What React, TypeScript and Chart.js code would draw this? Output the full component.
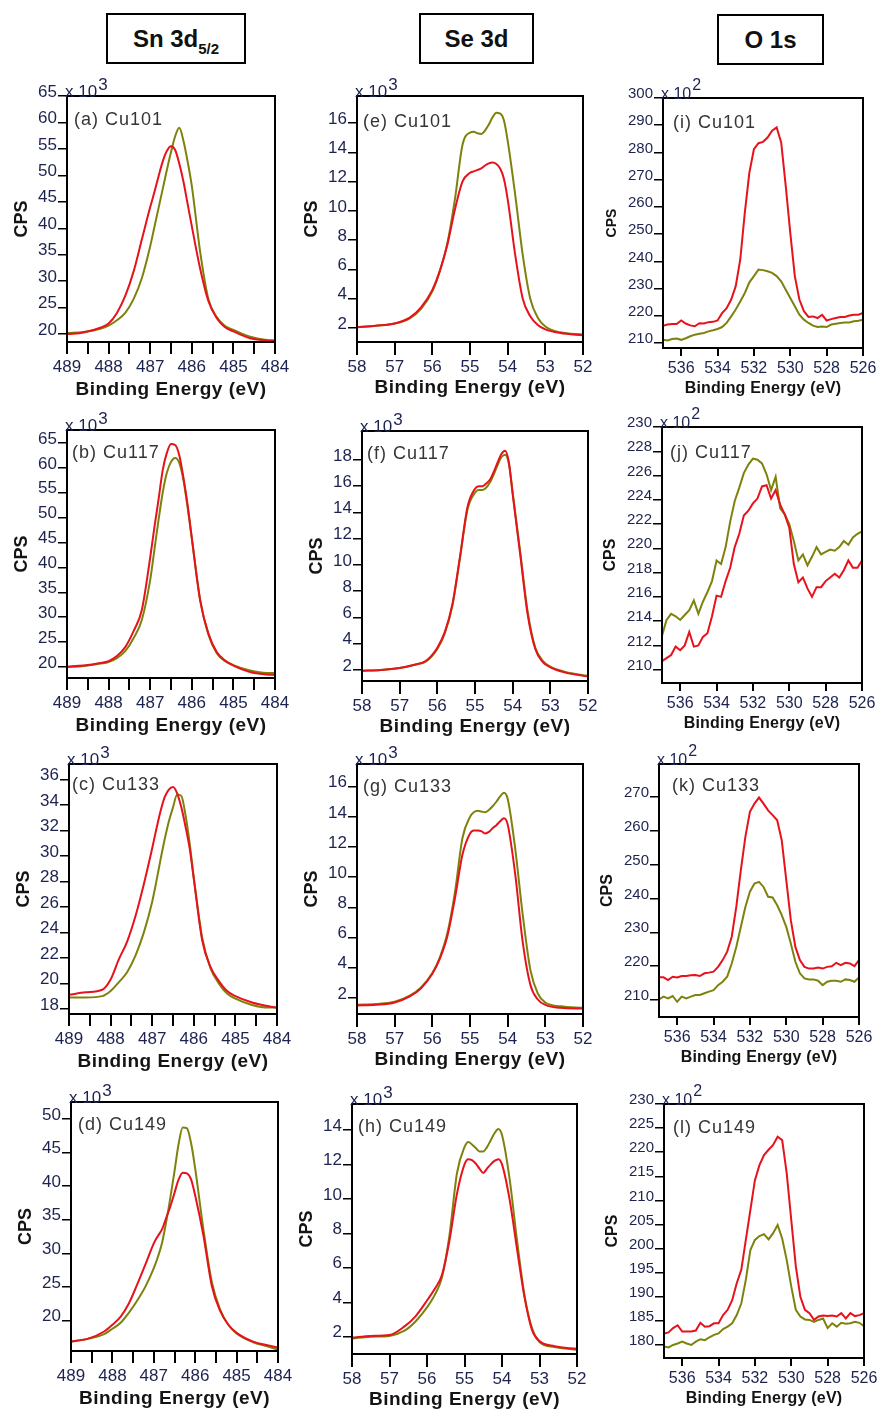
import React, { useEffect, useRef } from 'react';
import { Chart, registerables } from 'chart.js';

Chart.register(...registerables);

// ---------- data ----------
const snX = [489, 488.6, 488.2, 488, 487.8, 487.6, 487.4, 487.2, 487, 486.9, 486.8, 486.7, 486.6, 486.5, 486.4, 486.3, 486.2, 486.1, 486, 485.8, 485.6, 485.4, 485.2, 485, 484.6, 484.2, 484];
const seX = [58, 57.5, 57, 56.6, 56.3, 56.0, 55.8, 55.6, 55.4, 55.2, 55.0, 54.9, 54.8, 54.7, 54.6, 54.5, 54.4, 54.3, 54.2, 54.1, 54.0, 53.8, 53.6, 53.4, 53.2, 53.0, 52.6, 52.0];
const oX = [537, 536.75, 536.5, 536.25, 536, 535.75, 535.5, 535.25, 535, 534.75, 534.5, 534.25, 534, 533.75, 533.5, 533.25, 533, 532.75, 532.5, 532.25, 532, 531.75, 531.5, 531.25, 531, 530.75, 530.5, 530.25, 530, 529.75, 529.5, 529.25, 529, 528.75, 528.5, 528.25, 528, 527.75, 527.5, 527.25, 527, 526.75, 526.5, 526.25, 526];

// Sn 3d5/2 (x10^3 CPS)
const snA_red = [20.0, 20.3, 21.2, 22.0, 24.0, 27.2, 31.8, 37.9, 44.0, 46.8, 49.8, 52.6, 54.6, 55.5, 54.8, 52.2, 48.8, 44.6, 40.4, 32.4, 26.2, 23.0, 21.3, 20.5, 19.2, 18.8, 18.7];
const snA_olive = [20.2, 20.4, 21.0, 21.6, 22.6, 24.0, 26.6, 30.6, 36.6, 40.2, 43.8, 47.4, 51.0, 54.4, 57.4, 59.0, 56.5, 52.6, 48.0, 35.6, 26.6, 23.2, 21.5, 20.8, 19.5, 18.9, 18.8];
const snB_red = [20.1, 20.3, 20.8, 21.2, 22.2, 24.0, 27.2, 31.5, 42.0, 48.0, 53.6, 59.5, 63.0, 64.8, 64.6, 62.5, 58.0, 52.5, 46.0, 33.4, 26.7, 23.0, 21.3, 20.3, 19.0, 18.5, 18.4];
const snB_olive = [20.0, 20.2, 20.7, 21.0, 21.8, 23.2, 25.8, 29.5, 37.5, 43.5, 49.5, 55.0, 59.0, 61.2, 62.0, 61.0, 57.5, 52.0, 45.8, 33.6, 26.5, 22.8, 21.2, 20.4, 19.3, 18.8, 18.8];
const snC_red = [19.1, 19.3, 19.5, 20.3, 21.9, 23.3, 25.3, 27.8, 30.6, 32.1, 33.5, 34.6, 35.2, 35.4, 34.9, 33.8, 32.3, 30.6, 28.2, 23.4, 21.3, 20.2, 19.4, 19.0, 18.5, 18.2, 18.1];
const snC_olive = [18.9, 18.9, 19.0, 19.4, 20.1, 20.9, 22.2, 24.0, 26.4, 28.0, 29.7, 31.3, 32.7, 33.8, 34.8, 34.7, 33.2, 31.0, 28.3, 23.6, 21.2, 20.0, 19.2, 18.8, 18.3, 18.1, 18.1];
const snD_red = [16.9, 17.3, 18.4, 19.4, 20.6, 22.6, 25.4, 28.4, 31.5, 32.6, 33.6, 35.3, 37.0, 39.0, 41.0, 42.0, 41.9, 41.0, 38.6, 32.6, 25.2, 21.5, 19.4, 18.2, 16.9, 16.3, 16.0];
const snD_olive = [16.9, 17.3, 18.0, 18.8, 19.7, 21.2, 23.0, 25.1, 27.8, 29.5, 31.6, 34.7, 38.3, 42.2, 46.3, 48.7, 48.6, 46.4, 42.6, 33.5, 25.8, 21.7, 19.4, 18.1, 16.8, 16.1, 15.7];

// Se 3d (x10^3 CPS)
const seE_red = [2.05, 2.15, 2.3, 2.7, 3.4, 4.6, 5.9, 7.7, 10.1, 12.0, 12.6, 12.7, 12.8, 12.9, 13.1, 13.25, 13.3, 13.2, 12.9, 12.2, 10.8, 7.0, 4.0, 2.8, 2.2, 1.9, 1.65, 1.5];
const seE_olive = [2.05, 2.15, 2.3, 2.65, 3.3, 4.5, 5.9, 7.8, 10.8, 14.5, 15.35, 15.4, 15.3, 15.25, 15.5, 15.9, 16.4, 16.7, 16.65, 16.2, 14.8, 11.1, 7.0, 4.0, 2.7, 2.1, 1.7, 1.55];
const seF_red = [1.95, 2.0, 2.15, 2.4, 2.7, 3.7, 4.9, 7.0, 10.6, 14.4, 15.8, 16.0, 16.0, 16.2, 16.5, 17.1, 17.8, 18.45, 18.7, 17.8, 15.4, 10.8, 6.2, 3.6, 2.6, 2.2, 1.8, 1.5];
const seF_olive = [1.95, 2.0, 2.15, 2.4, 2.65, 3.6, 4.8, 6.9, 10.5, 14.2, 15.5, 15.7, 15.7, 15.9, 16.3, 16.9, 17.6, 18.2, 18.4, 17.7, 15.5, 11.0, 6.4, 3.7, 2.7, 2.25, 1.85, 1.55];
const seG_red = [1.5, 1.55, 1.7, 2.1, 2.65, 3.6, 4.6, 6.1, 8.6, 11.5, 12.9, 13.1, 13.1, 13.05, 12.9, 13.0, 13.25, 13.45, 13.7, 13.9, 13.5, 10.2, 5.7, 2.9, 1.9, 1.55, 1.35, 1.3];
const seG_olive = [1.55, 1.6, 1.75, 2.15, 2.7, 3.65, 4.7, 6.3, 9.0, 12.6, 14.0, 14.3, 14.4, 14.35, 14.3, 14.45, 14.7, 15.0, 15.35, 15.6, 15.2, 11.9, 7.5, 3.9, 2.3, 1.7, 1.45, 1.35];
const seH_red = [1.95, 2.05, 2.1, 2.6, 3.2, 4.1, 4.75, 5.6, 7.6, 10.3, 12.0, 12.3, 12.25, 12.05, 11.75, 11.5, 11.75, 12.0, 12.2, 12.3, 12.0, 10.0, 7.1, 4.3, 2.4, 1.75, 1.45, 1.3];
const seH_olive = [1.9, 2.0, 2.05, 2.35, 2.9, 3.7, 4.4, 5.45, 7.9, 11.5, 13.0, 13.3, 13.15, 12.95, 12.75, 12.75, 13.0, 13.4, 13.8, 14.05, 13.7, 11.2, 7.6, 4.4, 2.5, 1.7, 1.4, 1.25];

// O 1s (x10^2 CPS)
const oI_red = [216.4, 216.8, 217.0, 217.0, 218.3, 217.2, 216.5, 216.2, 217.3, 217.2, 217.7, 217.8, 218.3, 221.0, 222.8, 226.0, 230.9, 240.7, 257.9, 272.6, 281.2, 283.4, 283.9, 285.5, 288.0, 289.2, 283.7, 267.7, 250.5, 234.6, 226.0, 221.7, 219.6, 219.8, 219.2, 220.4, 218.3, 218.8, 219.2, 219.6, 219.6, 220.1, 220.4, 220.4, 221.1];
const oI_olive = [211.2, 211.0, 211.5, 211.7, 211.2, 211.8, 212.5, 213.1, 213.4, 213.7, 214.3, 214.7, 215.2, 215.9, 217.4, 219.8, 222.3, 225.3, 228.4, 232.3, 234.6, 237.0, 236.8, 236.4, 235.8, 234.6, 232.7, 229.6, 226.6, 223.5, 220.4, 218.6, 217.4, 216.4, 215.9, 216.1, 215.9, 216.8, 217.1, 217.4, 217.6, 217.6, 218.0, 218.2, 218.6];
const oJ_red = [210.7, 210.95, 211.2, 211.9, 211.6, 212.0, 213.1, 211.9, 212.0, 212.7, 213.0, 214.4, 216.1, 216.0, 217.3, 218.4, 220.1, 221.2, 222.7, 223.1, 223.7, 224.1, 225.1, 225.2, 224.1, 224.8, 223.6, 222.8, 221.7, 218.7, 217.2, 217.6, 216.7, 216.0, 216.8, 216.8, 217.3, 217.6, 217.9, 217.6, 218.2, 219.0, 218.4, 218.4, 219.0];
const oJ_olive = [212.8, 214.1, 214.6, 214.4, 214.1, 214.5, 214.9, 215.7, 214.6, 215.6, 216.4, 217.3, 219.0, 218.7, 220.1, 222.2, 223.9, 225.0, 226.2, 226.9, 227.4, 227.3, 227.0, 226.1, 224.8, 225.9, 223.3, 222.8, 222.0, 220.6, 219.0, 219.5, 218.6, 219.3, 220.1, 219.5, 219.7, 219.9, 219.8, 220.1, 220.6, 220.3, 220.9, 221.2, 221.4];
const oK_red = [216.7, 216.7, 215.9, 216.9, 216.7, 217.1, 217.1, 217.3, 217.4, 217.1, 217.9, 218.1, 218.4, 219.8, 221.8, 224.3, 228.7, 237.5, 248.3, 258.2, 265.6, 268.0, 269.8, 268.0, 266.0, 264.6, 263.1, 257.2, 245.4, 233.6, 225.7, 221.8, 219.8, 219.3, 219.3, 219.6, 219.3, 219.8, 220.0, 221.0, 220.3, 221.0, 220.8, 220.0, 221.8];
const oK_olive = [210.2, 211.0, 210.5, 211.2, 209.5, 211.0, 210.5, 211.0, 211.5, 211.5, 212.0, 212.5, 212.9, 214.4, 215.4, 216.9, 220.8, 225.7, 231.6, 237.5, 242.0, 244.4, 244.9, 243.4, 240.5, 240.3, 238.0, 235.1, 231.6, 226.7, 221.3, 217.9, 216.4, 216.1, 216.1, 215.7, 214.4, 215.4, 215.7, 215.7, 215.4, 216.1, 215.9, 215.4, 216.7];
const oL_red = [182.4, 182.6, 183.5, 184.1, 182.8, 182.8, 182.8, 183.0, 184.6, 183.8, 183.9, 184.5, 184.5, 186.2, 187.3, 189.3, 192.8, 195.6, 201.8, 208.0, 214.2, 217.3, 219.4, 220.5, 221.5, 223.2, 222.5, 215.6, 205.9, 196.3, 190.0, 187.3, 186.6, 185.2, 185.9, 186.1, 186.0, 186.1, 185.9, 186.6, 185.5, 186.6, 186.0, 186.2, 186.6];
const oL_olive = [179.7, 179.5, 180.0, 180.3, 180.7, 180.3, 180.0, 180.7, 181.2, 181.0, 181.6, 182.1, 182.4, 183.3, 183.8, 184.5, 186.2, 188.6, 193.5, 199.7, 201.8, 202.6, 203.0, 201.9, 203.2, 204.9, 202.1, 197.6, 192.1, 187.3, 185.9, 185.3, 185.2, 184.8, 185.2, 185.5, 183.5, 184.5, 183.8, 184.6, 184.4, 184.5, 184.8, 184.6, 183.9];

// tick values
const snXTicks = [489, 488.5, 488, 487.5, 487, 486.5, 486, 485.5, 485, 484.5, 484];
const seXTicks = [58, 57, 56, 55, 54, 53, 52];
const oXTicks = [536, 534, 532, 530, 528, 526];
const yTicksA = [20, 25, 30, 35, 40, 45, 50, 55, 60, 65];
const yTicksB = [20, 25, 30, 35, 40, 45, 50, 55, 60, 65];
const yTicksC = [18, 20, 22, 24, 26, 28, 30, 32, 34, 36];
const yTicksD = [20, 25, 30, 35, 40, 45, 50];
const yTicksE = [2, 4, 6, 8, 10, 12, 14, 16];
const yTicksF = [2, 4, 6, 8, 10, 12, 14, 16, 18];
const yTicksG = [2, 4, 6, 8, 10, 12, 14, 16];
const yTicksH = [2, 4, 6, 8, 10, 12, 14];
const yTicksI = [210, 220, 230, 240, 250, 260, 270, 280, 290, 300];
const yTicksJ = [210, 212, 214, 216, 218, 220, 222, 224, 226, 228, 230];
const yTicksK = [210, 220, 230, 240, 250, 260, 270];
const yTicksL = [180, 185, 190, 195, 200, 205, 210, 215, 220, 225, 230];

// ---------- styles / layout ----------
const FONT = '"Liberation Sans", Arial, Helvetica, sans-serif';
const RED = '#e6121c';
const OLIVE = '#7e820c';
const NAVY = '#1c2350';
const DARK = '#141414';
const LABEL = '#353535';

const YW = 62;
const PT = 30;
const PR = 14;
const XH = 62;

type ColStyle = {
  xTicks: number[]; xMin: number; xMax: number; xTickLen: number; xPad: number; xFont: number;
  yFont: number; yTickLen: number; cpsOff: number; xTitleOff: number; xTitleSize: number; xTitleSpacing: number;
  exp: string; expSize: number; expRaise: number; intOnly: boolean; smooth: boolean;
};

const colStyles: ColStyle[] = [
  { xTicks: snXTicks, xMin: 484, xMax: 489, xTickLen: 12, xPad: 3, xFont: 17, yFont: 17, yTickLen: 9, cpsOff: 45, xTitleOff: 48, xTitleSize: 19, xTitleSpacing: 0.5, exp: '3', expSize: 17, expRaise: 7, intOnly: true, smooth: true },
  { xTicks: seXTicks, xMin: 52, xMax: 58, xTickLen: 13, xPad: 2, xFont: 17, yFont: 17, yTickLen: 9, cpsOff: 45, xTitleOff: 46, xTitleSize: 19, xTitleSpacing: 0.5, exp: '3', expSize: 17, expRaise: 7, intOnly: false, smooth: true },
  { xTicks: oXTicks, xMin: 526, xMax: 537, xTickLen: 8, xPad: 3, xFont: 16, yFont: 15, yTickLen: 9, cpsOff: 51, xTitleOff: 41, xTitleSize: 16, xTitleSpacing: 0.2, exp: '2', expSize: 16, expRaise: 9, intOnly: false, smooth: false },
];

type PanelDef = {
  id: string; label: string; col: number; box: [number, number, number, number];
  x: number[]; red: number[]; olive: number[]; yMin: number; yMax: number; yTicks: number[];
  ld: [number, number]; cps: number;
};

const panels: PanelDef[] = [
  { id: 'a', label: '(a) Cu101', col: 0, box: [67, 96, 275, 342], x: snX, red: snA_red, olive: snA_olive, yMin: 18.5, yMax: 65, yTicks: yTicksA, ld: [7, 24], cps: 18 },
  { id: 'b', label: '(b) Cu117', col: 0, box: [67, 430, 275, 678], x: snX, red: snB_red, olive: snB_olive, yMin: 17.8, yMax: 67.6, yTicks: yTicksB, ld: [5, 23], cps: 18 },
  { id: 'c', label: '(c) Cu133', col: 0, box: [69, 764, 277, 1014], x: snX, red: snC_red, olive: snC_olive, yMin: 17.6, yMax: 37.2, yTicks: yTicksC, ld: [3, 21], cps: 18 },
  { id: 'd', label: '(d) Cu149', col: 0, box: [71, 1102, 278, 1351], x: snX, red: snD_red, olive: snD_olive, yMin: 15.5, yMax: 52.5, yTicks: yTicksD, ld: [7, 23], cps: 18 },
  { id: 'e', label: '(e) Cu101', col: 1, box: [357, 96, 583, 342], x: seX, red: seE_red, olive: seE_olive, yMin: 1.04, yMax: 17.85, yTicks: yTicksE, ld: [6, 26], cps: 18 },
  { id: 'f', label: '(f) Cu117', col: 1, box: [362, 431, 588, 681], x: seX, red: seF_red, olive: seF_olive, yMin: 1.16, yMax: 20.2, yTicks: yTicksF, ld: [5, 23], cps: 18 },
  { id: 'g', label: '(g) Cu133', col: 1, box: [357, 764, 583, 1014], x: seX, red: seG_red, olive: seG_olive, yMin: 0.94, yMax: 17.5, yTicks: yTicksG, ld: [6, 23], cps: 18 },
  { id: 'h', label: '(h) Cu149', col: 1, box: [352, 1104, 577, 1354], x: seX, red: seH_red, olive: seH_olive, yMin: 1.0, yMax: 15.5, yTicks: yTicksH, ld: [6, 23], cps: 18 },
  { id: 'i', label: '(i) Cu101', col: 2, box: [663, 98, 863, 348], x: oX, red: oI_red, olive: oI_olive, yMin: 208.2, yMax: 300, yTicks: yTicksI, ld: [10, 25], cps: 14 },
  { id: 'j', label: '(j) Cu117', col: 2, box: [662, 427, 862, 683], x: oX, red: oJ_red, olive: oJ_olive, yMin: 208.9, yMax: 230, yTicks: yTicksJ, ld: [8, 26], cps: 16 },
  { id: 'k', label: '(k) Cu133', col: 2, box: [659, 764, 859, 1017], x: oX, red: oK_red, olive: oK_olive, yMin: 205, yMax: 279.7, yTicks: yTicksK, ld: [13, 22], cps: 16 },
  { id: 'l', label: '(l) Cu149', col: 2, box: [664, 1104, 864, 1358], x: oX, red: oL_red, olive: oL_olive, yMin: 177.3, yMax: 230, yTicks: yTicksL, ld: [9, 24], cps: 16 },
];

const titles = [
  { key: 'sn', left: 106, top: 13, width: 140, height: 51, main: 'Sn 3d', sub: '5/2' },
  { key: 'se', left: 419, top: 13, width: 115, height: 51, main: 'Se 3d', sub: '' },
  { key: 'o', left: 717, top: 14, width: 107, height: 51, main: 'O 1s', sub: '' },
];

function decorPlugin(p: PanelDef, s: ColStyle) {
  return {
    id: 'decor' + p.id,
    afterDraw(chart: any) {
      const ctx: CanvasRenderingContext2D = chart.ctx;
      const a = chart.chartArea;
      ctx.save();
      ctx.strokeStyle = '#000';
      ctx.lineWidth = 2;
      ctx.strokeRect(a.left, a.top, a.right - a.left, a.bottom - a.top);

      // panel label
      ctx.fillStyle = LABEL;
      ctx.font = `18px ${FONT}`;
      ctx.textAlign = 'left';
      ctx.textBaseline = 'middle';
      (ctx as any).letterSpacing = '1px';
      ctx.fillText(p.label, a.left + p.ld[0], a.top + p.ld[1]);
      (ctx as any).letterSpacing = '0px';

      // exponent
      ctx.fillStyle = NAVY;
      ctx.font = `${s.expSize}px ${FONT}`;
      ctx.textBaseline = 'alphabetic';
      const base = 'x 10';
      ctx.fillText(base, a.left - 2, a.top + 1);
      const w = ctx.measureText(base).width;
      ctx.fillText(s.exp, a.left - 2 + w + 1, a.top + 1 - s.expRaise);

      // CPS
      ctx.fillStyle = DARK;
      ctx.font = `bold ${p.cps}px ${FONT}`;
      ctx.textAlign = 'center';
      ctx.textBaseline = 'middle';
      ctx.save();
      ctx.translate(a.left - s.cpsOff, (a.top + a.bottom) / 2);
      ctx.rotate(-Math.PI / 2);
      ctx.fillText('CPS', 0, 0);
      ctx.restore();

      // x title
      ctx.font = `bold ${s.xTitleSize}px ${FONT}`;
      (ctx as any).letterSpacing = s.xTitleSpacing + 'px';
      ctx.fillText('Binding Energy (eV)', (a.left + a.right) / 2, a.bottom + s.xTitleOff);
      (ctx as any).letterSpacing = '0px';
      ctx.restore();
    },
  };
}

function PanelChart({ p }: { p: PanelDef }) {
  const ref = useRef<HTMLCanvasElement | null>(null);
  const s = colStyles[p.col];
  const [l, t, r, b] = p.box;
  const W = r - l + YW + PR;
  const H = b - t + PT + XH;

  useEffect(() => {
    const canvas = ref.current;
    if (!canvas) return;
    const line = (vals: number[], color: string) => ({
      data: p.x.map((x, i) => ({ x, y: vals[i] })),
      borderColor: color,
      borderWidth: 2,
      pointRadius: 0,
      fill: false,
      tension: s.smooth ? 0.4 : 0,
      cubicInterpolationMode: s.smooth ? 'monotone' : 'default',
    });
    const chart = new Chart(canvas, {
      type: 'line',
      data: { datasets: [line(p.red, RED), line(p.olive, OLIVE)] as any },
      options: {
        responsive: false,
        maintainAspectRatio: false,
        animation: false,
        events: [],
        layout: { padding: { left: 0, top: PT, right: PR, bottom: 0 } },
        plugins: { legend: { display: false }, tooltip: { enabled: false }, title: { display: false } },
        scales: {
          x: {
            type: 'linear',
            reverse: true,
            min: s.xMin,
            max: s.xMax,
            afterBuildTicks: (sc: any) => { sc.ticks = s.xTicks.map((v) => ({ value: v })); },
            afterFit: (sc: any) => { sc.height = XH; sc.paddingLeft = 0; sc.paddingRight = 0; },
            ticks: {
              autoSkip: false,
              maxRotation: 0,
              minRotation: 0,
              padding: s.xPad,
              color: NAVY,
              font: { family: FONT, size: s.xFont },
              callback: (v: any) => (s.intOnly && !Number.isInteger(v) ? '' : String(v)),
            },
            grid: { drawOnChartArea: false, drawTicks: true, tickLength: s.xTickLen, color: '#000', lineWidth: 2 },
            border: { display: false },
          },
          y: {
            type: 'linear',
            min: p.yMin,
            max: p.yMax,
            afterBuildTicks: (sc: any) => { sc.ticks = p.yTicks.map((v) => ({ value: v })); },
            afterFit: (sc: any) => { sc.width = YW; sc.paddingTop = 0; sc.paddingBottom = 0; },
            ticks: {
              autoSkip: false,
              padding: 1,
              labelOffset: -4,
              color: NAVY,
              font: { family: FONT, size: s.yFont },
              callback: (v: any) => String(v),
            },
            grid: { drawOnChartArea: false, drawTicks: true, tickLength: s.yTickLen, color: '#000', lineWidth: 1.5 },
            border: { display: false },
          },
        },
      } as any,
      plugins: [decorPlugin(p, s) as any],
    });
    return () => chart.destroy();
  }, [p]);

  return (
    <canvas
      ref={ref}
      width={W}
      height={H}
      style={{ position: 'absolute', left: l - YW, top: t - PT, width: W, height: H }}
    />
  );
}

export default function App() {
  return (
    <div
      style={{
        position: 'absolute', left: 0, top: 0, width: 878, height: 1410,
        overflow: 'hidden', background: '#fff', fontFamily: FONT,
      }}
    >
      {titles.map((tt) => (
        <div
          key={tt.key}
          style={{
            position: 'absolute', left: tt.left, top: tt.top, width: tt.width, height: tt.height,
            border: '2px solid #000', boxSizing: 'border-box', display: 'flex',
            alignItems: 'center', justifyContent: 'center', fontWeight: 'bold', fontSize: 24, color: '#111',
          }}
        >
          <span>
            {tt.main}
            {tt.sub ? (
              <span style={{ fontSize: 15, position: 'relative', top: 7 }}>{tt.sub}</span>
            ) : null}
          </span>
        </div>
      ))}
      {panels.map((p) => (
        <PanelChart key={p.id} p={p} />
      ))}
    </div>
  );
}
